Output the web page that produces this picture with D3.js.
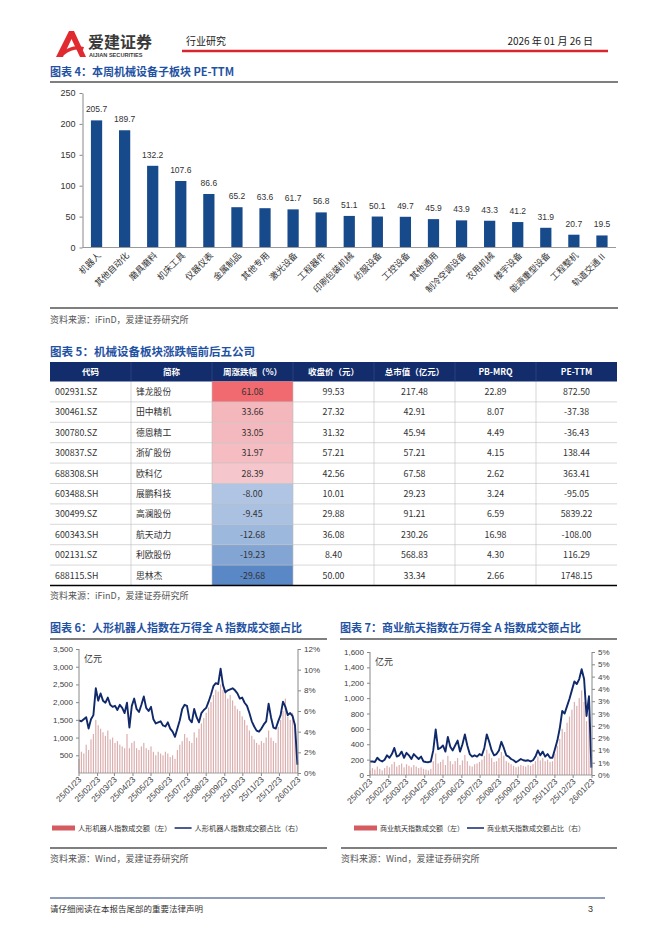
<!DOCTYPE html>
<html><head><meta charset="utf-8">
<script src="https://cdn.jsdelivr.net/npm/d3@7"></script>
<style>body{margin:0;background:#fff}svg{display:block}</style>
</head><body><svg id="c" width="662" height="936"></svg>
<script>
// ---------- DATA ----------
const sectors = ["机器人","其他自动化","磨具磨料","机床工具","仪器仪表","金属制品","其他专用","激光设备","工程器件","印刷包装机械","纺服设备","工控设备","其他通用","制冷空调设备","农用机械","楼宇设备","能源重型设备","工程整机","轨道交通Ⅱ"];
const peValues = [205.7,189.7,132.2,107.6,86.6,65.2,63.6,61.7,56.8,51.1,50.1,49.7,45.9,43.9,43.3,41.2,31.9,20.7,19.5];
const peTicks = [0,50,100,150,200,250];

const tableHeaders = ["代码","简称","周涨跌幅（%）","收盘价（元）","总市值（亿元）","PB-MRQ","PE-TTM"];
const codes = ["002931.SZ","300461.SZ","300780.SZ","300837.SZ","688308.SH","603488.SH","300499.SZ","600343.SH","002131.SZ","688115.SH"];
const names = ["锋龙股份","田中精机","德恩精工","浙矿股份","欧科亿","展鹏科技","高澜股份","航天动力","利欧股份","思林杰"];
const weeklyChg = [61.08,33.66,33.05,31.97,28.39,-8.00,-9.45,-12.68,-19.23,-29.68];
const closePrice = [99.53,27.32,31.32,57.21,42.56,10.01,29.88,36.08,8.40,50.00];
const marketCap = [217.48,42.91,45.94,57.21,67.58,29.23,91.21,230.26,568.83,33.34];
const pbMRQ = [22.89,8.07,4.49,4.15,2.62,3.24,6.59,16.98,4.30,2.66];
const peTTM = [872.50,-37.38,-36.43,138.44,363.41,-95.05,5839.22,-108.00,116.29,1748.15];

const dateTickLabels = ["25/01/23","25/02/23","25/03/23","25/04/23","25/05/23","25/06/23","25/07/23","25/08/23","25/09/23","25/10/23","25/11/23","25/12/23","26/01/23"];

// 人形机器人 (sampled every 4 days from 2025-01-23)
const robotAmount = [400,600,550,800,650,950,1100,1500,1350,1250,1150,1050,1200,950,1000,850,900,800,750,700,1100,700,850,900,700,650,750,850,700,650,750,600,500,600,550,500,600,550,450,500,400,650,800,900,1100,1000,900,850,1150,1000,1250,1400,1550,1700,1850,2000,2200,2350,2300,2500,2350,2250,2100,2200,2050,1900,1800,1750,1600,1500,1350,1200,1050,950,850,800,900,850,1000,1200,1000,900,850,1300,1500,1750,2100,1600,1500,1700,1400,300];
const robotRatio = [5.1,5.0,5.2,5.4,4.3,5.2,5.6,8.2,7.0,7.7,7.0,6.8,7.3,6.6,6.4,6.5,6.1,6.6,6.3,5.8,6.8,4.4,6.5,7.2,6.2,5.9,6.6,7.4,6.3,6.0,6.4,5.2,4.8,4.9,5.0,4.6,4.5,4.9,4.3,4.0,3.5,4.3,5.1,6.2,6.6,6.5,5.2,4.9,6.2,5.4,4.9,5.8,6.1,6.3,6.9,7.6,8.4,8.7,8.6,10.1,8.5,7.8,8.0,8.1,8.2,8.0,7.7,7.2,7.3,6.8,6.5,5.8,5.0,4.5,4.1,4.0,4.3,4.7,5.0,6.7,5.4,4.4,4.3,5.0,5.6,6.9,6.4,5.6,5.8,5.5,4.6,0.8];
const robotLeftTicks = [500,1000,1500,2000,2500,3000,3500];
const robotRightTicks = [0,2,4,6,8,10,12];

// 商业航天
const spaceAmount = [60,90,70,110,80,60,90,120,100,140,170,110,130,150,100,140,120,100,130,110,90,100,80,70,60,80,180,280,150,170,200,130,250,180,140,180,220,130,190,260,180,120,110,140,150,170,200,250,330,280,220,170,180,220,300,250,180,160,140,120,100,110,130,120,110,130,120,140,180,240,190,220,180,200,170,180,280,380,470,600,560,680,760,850,950,900,1000,1100,950,700,800,150];
const spaceRatio = [0.55,0.55,0.53,0.7,0.6,0.55,0.62,0.8,0.7,0.85,1.1,0.75,0.8,0.95,0.7,0.9,0.8,0.65,0.85,0.75,0.65,0.75,0.55,0.53,0.52,0.55,1.0,1.85,1.05,1.1,1.2,0.95,1.55,1.15,1.0,1.2,1.4,0.95,1.25,1.65,1.2,0.85,0.75,0.8,0.75,0.85,0.8,1.1,1.65,1.35,1.0,0.8,0.85,1.0,1.35,1.1,0.8,0.75,0.65,0.6,0.52,0.58,0.65,0.6,0.58,0.6,0.55,0.6,0.75,1.0,0.8,0.95,0.75,0.85,0.7,0.7,1.05,1.4,1.9,2.6,2.5,2.8,3.1,3.45,3.8,3.7,3.9,4.3,3.9,2.4,3.2,0.3];
const spaceLeftTicks = [0,200,400,600,800,1000,1200,1400,1600];
const spaceRightTicks = [0,0.5,1,1.5,2,2.5,3,3.5,4,4.5,5];
const spaceRightLabels = ["0%","1%","1%","2%","2%","3%","3%","4%","4%","5%","5%"];

// ---------- STYLE ----------
const CN = "'Noto Sans CJK SC','Noto Sans',sans-serif";
const LAT = "'Liberation Sans',Arial,sans-serif";
const TITLE_BLUE = "#1f52a3";
const NAVY = "#10296b";
const svg = d3.select("#c");

// ---------- HEADER ----------
svg.append("path").attr("d","M56,57 L69,31 L74,31 L86,57 L80,57 L71.5,39 L63,57 Z").attr("fill","#e02a30");
svg.append("path").attr("d","M62,52 Q72,44 84,47 L83,50 Q73,48 64,55 Z").attr("fill","#e02a30");
svg.append("text").attr("x",88).attr("y",48).text("爱建证券").attr("font-family",CN).attr("font-weight","bold").attr("font-size",16).attr("fill","#3a3a3a");
svg.append("text").attr("x",89).attr("y",57).text("AIJIAN SECURITIES").attr("font-family",LAT).attr("font-weight","bold").attr("font-size",5.6).attr("fill","#3a3a3a");
svg.append("text").attr("x",186).attr("y",45).text("行业研究").attr("font-family",CN).attr("font-size",10).attr("fill","#222");
svg.append("text").attr("x",593).attr("y",45).attr("text-anchor","end").text("2026 年 01 月 26 日").attr("font-family",CN).attr("font-size",10).attr("fill","#222");
svg.append("line").attr("x1",182).attr("x2",608).attr("y1",51).attr("y2",51).attr("stroke","#d9262e").attr("stroke-width",2.5);

function title(x,y,t,fs){
  svg.append("text").attr("x",x).attr("y",y).text(t).attr("font-family",CN).attr("font-weight","bold").attr("font-size",fs||11).attr("fill",TITLE_BLUE);
}
function hline(x1,x2,y,w,c){
  svg.append("line").attr("x1",x1).attr("x2",x2).attr("y1",y).attr("y2",y).attr("stroke",c||"#000").attr("stroke-width",w||1);
}
function source(x,y,t){
  svg.append("text").attr("x",x).attr("y",y).text(t).attr("font-family",CN).attr("font-size",9).attr("fill","#555");
}

// ---------- CHART 4 ----------
title(50,76,"图表 4：本周机械设备子板块 PE-TTM");
hline(50,618,82,1.2);
const x4 = d3.scaleBand().domain(sectors).range([82.5,616]).paddingInner(0.6).paddingOuter(0.3);
const y4 = d3.scaleLinear().domain([0,250]).range([247.5,93]);
const g4 = svg.append("g");
g4.selectAll("rect").data(peValues).join("rect")
  .attr("x",(d,i)=>x4(sectors[i])).attr("width",x4.bandwidth())
  .attr("y",d=>y4(d)).attr("height",d=>y4(0)-y4(d)).attr("fill","#174a8b");
g4.selectAll("text.v").data(peValues).join("text").attr("class","v")
  .attr("x",(d,i)=>x4(sectors[i])+x4.bandwidth()/2).attr("y",d=>y4(d)-8)
  .attr("text-anchor","middle").text(d=>d.toFixed(1))
  .attr("font-family",LAT).attr("font-size",8.5).attr("fill","#333");
const ax4 = svg.append("g").attr("transform","translate(82.5,0)")
  .call(d3.axisLeft(y4).tickValues(peTicks).tickSize(3).tickSizeOuter(0).tickPadding(4));
ax4.selectAll("text").attr("font-family",LAT).attr("font-size",9).attr("fill","#333");
ax4.selectAll("line,path").attr("stroke","#888");
hline(82.5,616,247.5,1,"#999");
g4.selectAll("text.c").data(sectors).join("text").attr("class","c")
  .attr("transform",d=>`translate(${x4(d)+x4.bandwidth()/2+5},${256}) rotate(-45)`)
  .attr("text-anchor","end").text(d=>d)
  .attr("font-family",CN).attr("font-size",8.8).attr("fill","#333");
hline(50,618,308,1.2);
source(50,323,"资料来源：iFinD，爱建证券研究所");

// ---------- TABLE (CHART 5) ----------
title(50,356,"图表 5：机械设备板块涨跌幅前后五公司",11.5);
const tx = d3.scaleBand().domain(d3.range(7)).range([50,617]);
const rowH = 20.4, headTop = 362, headH = 19.5;
const ty = d3.scaleBand().domain(d3.range(codes.length)).range([headTop+headH, headTop+headH+rowH*codes.length]);
svg.append("rect").attr("x",50).attr("y",headTop).attr("width",567).attr("height",headH).attr("fill","#132c6c");
const colorScale = d3.scaleLinear().domain([d3.min(weeklyChg), d3.median(weeklyChg), d3.max(weeklyChg)]).range(["#5a87c6","#f8f9fd","#f06a70"]);
svg.selectAll("rect.cf").data(weeklyChg).join("rect").attr("class","cf")
  .attr("x",tx(2)).attr("width",tx.bandwidth()).attr("y",(d,i)=>ty(i)).attr("height",ty.bandwidth())
  .attr("fill",d=>colorScale(d));
for(let i=1;i<codes.length;i++) hline(50,617,ty(i),0.6,"#bdbdbd");
for(let c=1;c<7;c++){
  svg.append("line").attr("x1",tx(c)).attr("x2",tx(c)).attr("y1",headTop+headH).attr("y2",ty(codes.length-1)+rowH).attr("stroke","#bdbdbd").attr("stroke-width",0.6);
  svg.append("line").attr("x1",tx(c)).attr("x2",tx(c)).attr("y1",headTop).attr("y2",headTop+headH).attr("stroke","#3b5188").attr("stroke-width",0.6);
}
hline(50,617,headTop+headH+rowH*codes.length,1.6,"#000");
svg.selectAll("text.h").data(tableHeaders).join("text").attr("class","h")
  .attr("x",(d,i)=>tx(i)+tx.bandwidth()/2).attr("y",headTop+headH/2+3.5).attr("text-anchor","middle").text(d=>d)
  .attr("font-family",CN).attr("font-weight","bold").attr("font-size",8.5).attr("fill","#fff");
const f2 = d=>d.toFixed(2);
const cols = [codes,names,weeklyChg.map(f2),closePrice.map(f2),marketCap.map(f2),pbMRQ.map(f2),peTTM.map(f2)];
cols.forEach((arr,c)=>{
  svg.selectAll("text.col"+c).data(arr).join("text").attr("class","col"+c)
    .attr("x",c<2?tx(c)+5:tx(c)+tx.bandwidth()/2).attr("text-anchor",c<2?"start":"middle")
    .attr("y",(d,i)=>ty(i)+rowH/2+3.3).text(d=>d)
    .attr("font-family",CN).attr("font-size",8.8).attr("fill","#333");
});
source(50,599,"资料来源：iFinD，爱建证券研究所");

// ---------- DUAL AXIS CHARTS ----------
const startDate = new Date(2025,0,23), endDate = new Date(2026,0,23);
const dates = robotAmount.map((d,i)=>d3.timeDay.offset(startDate,i*4));
const tickDates = dateTickLabels.map(s=>{const p=s.split("/");return new Date(2000+ +p[0], +p[1]-1, +p[2]);});

function dualChart(o){
  const x = d3.scaleTime().domain([startDate,endDate]).range([o.x0,o.x1]);
  const yL = d3.scaleLinear().domain(o.lDom).range([o.yb,o.yt]);
  const yR = d3.scaleLinear().domain(o.rDom).range([o.yb,o.yt]);
  const g = svg.append("g");
  g.selectAll("rect").data(o.amount).join("rect")
    .attr("x",(d,i)=>x(dates[i])-0.6).attr("width",1.2)
    .attr("y",d=>yL(d)).attr("height",d=>yL(0)-yL(d)).attr("fill","#dcaeb0");
  g.append("path").datum(o.ratio)
    .attr("d",d3.line().x((d,i)=>x(dates[i])).y(d=>yR(d)))
    .attr("fill","none").attr("stroke",NAVY).attr("stroke-width",1.9).attr("stroke-linejoin","round");
  const aL = svg.append("g").attr("transform",`translate(${o.x0},0)`)
    .call(d3.axisLeft(yL).tickValues(o.lTicks).tickSize(3).tickSizeOuter(0).tickPadding(3).tickFormat(d3.format(",")));
  const aR = svg.append("g").attr("transform",`translate(${o.x1},0)`)
    .call(d3.axisRight(yR).tickValues(o.rTicks).tickSize(3).tickSizeOuter(0).tickPadding(3).tickFormat((d,i)=>o.rLabels[i]));
  [aL,aR].forEach(a=>{
    a.selectAll("text").attr("font-family",LAT).attr("font-size",8).attr("fill","#404040");
    a.selectAll("line,path").attr("stroke","#888");
  });
  aL.select(".domain").attr("d",`M-0,${o.yt}V${o.yb}`);
  aR.select(".domain").attr("d",`M0,${o.yt}V${o.yb}`);
  hline(o.x0,o.x1,o.yb,0.8,"#888");
  g.selectAll("line.xt").data(tickDates).join("line").attr("class","xt")
    .attr("x1",d=>x(d)).attr("x2",d=>x(d)).attr("y1",o.yb).attr("y2",o.yb+3).attr("stroke","#888");
  g.selectAll("text.xl").data(dateTickLabels).join("text").attr("class","xl")
    .attr("transform",(d,i)=>`translate(${x(tickDates[i])+3},${o.yb+7}) rotate(-45)`)
    .attr("text-anchor","end").text(d=>d)
    .attr("font-family",LAT).attr("font-size",8.2).attr("fill","#404040");
  svg.append("text").attr("x",o.x0+5).attr("y",o.yt+13).text("亿元").attr("font-family",CN).attr("font-size",9).attr("fill","#333");
}

title(50,632,"图表 6：人形机器人指数在万得全 A 指数成交额占比");
hline(50,327,639,1.2);
dualChart({x0:79,x1:298,yb:773,yt:649,lDom:[0,3500],rDom:[0,12],lTicks:robotLeftTicks,rTicks:robotRightTicks,
  rLabels:robotRightTicks.map(d=>d+"%"),amount:robotAmount,ratio:robotRatio});
title(340,632,"图表 7：商业航天指数在万得全 A 指数成交额占比");
hline(340,617,639,1.2);
dualChart({x0:370,x1:592,yb:775,yt:652,lDom:[0,1600],rDom:[0,5],lTicks:spaceLeftTicks,rTicks:spaceRightTicks,
  rLabels:spaceRightLabels,amount:spaceAmount,ratio:spaceRatio});

// legends
function legend(x,y,t1,t2,fs,w1){
  svg.append("rect").attr("x",x).attr("y",y-2.5).attr("width",23).attr("height",5).attr("fill","#d65b61");
  svg.append("text").attr("x",x+26).attr("y",y+2.8).text(t1).attr("font-family",CN).attr("font-size",fs).attr("fill","#333");
  const lx = x+26+w1+3;
  svg.append("line").attr("x1",lx).attr("x2",lx+17).attr("y1",y).attr("y2",y).attr("stroke",NAVY).attr("stroke-width",1.5);
  svg.append("text").attr("x",lx+20).attr("y",y+2.8).text(t2).attr("font-family",CN).attr("font-size",fs).attr("fill","#333");
}
legend(52,828,"人形机器人指数成交额（左）","人形机器人指数成交额占比（右）",7.2,93.6);
legend(354,828,"商业航天指数成交额（左）","商业航天指数成交额占比（右）",7,84);
hline(50,327,848,1.2);
hline(341,617,848,1.2);
source(50,862,"资料来源：Wind，爱建证券研究所");
source(341,862,"资料来源：Wind，爱建证券研究所");

// footer
hline(50,605,898,1,"#1f3a7a");
svg.append("text").attr("x",50).attr("y",912).text("请仔细阅读在本报告尾部的重要法律声明").attr("font-family",CN).attr("font-size",8.5).attr("fill","#333");
svg.append("text").attr("x",593).attr("y",912).attr("text-anchor","end").text("3").attr("font-family",LAT).attr("font-size",9).attr("fill","#333");
</script>
</body></html>
